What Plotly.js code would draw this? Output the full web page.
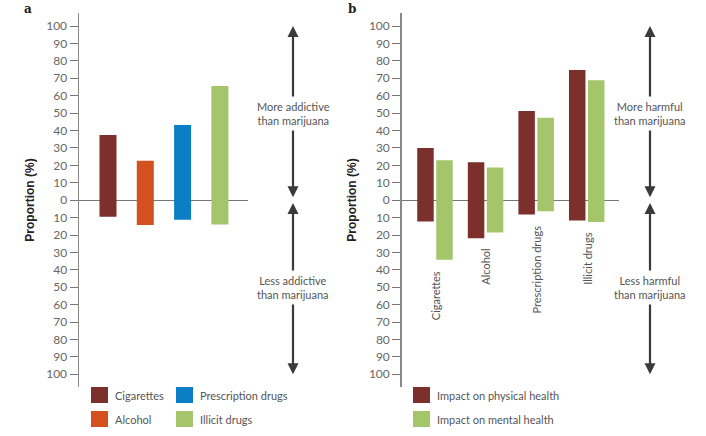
<!DOCTYPE html>
<html>
<head>
<meta charset="utf-8">
<script src="https://cdn.plot.ly/plotly-3.0.1.min.js"></script>
<style>html,body{margin:0;padding:0;background:#fff;}#chart{width:706px;height:436px;}</style>
</head>
<body>
<div id="chart"></div>
<script>
// ---- Data ----
const drugs = ["Cigarettes", "Alcohol", "Prescription drugs", "Illicit drugs"];
const drugColors = ["#7b302c", "#d4511f", "#0b7ec5", "#a5c56a"];
// Panel a: addictiveness
const moreAddictive = [37.4, 22.6, 43.2, 65.6];
const lessAddictive = [9.5, 14.3, 11.3, 14.0];
// Panel b: harm
const physMore = [29.9, 21.8, 51.2, 74.8];
const physLess = [12.3, 21.8, 8.2, 11.7];
const mentalMore = [22.9, 18.7, 47.4, 68.9];
const mentalLess = [34.2, 18.6, 6.3, 12.6];
const harmSeries = ["Impact on physical health", "Impact on mental health"];
const harmColors = ["#7b302c", "#a5c56a"];
const tickVals = [-100,-90,-80,-70,-60,-50,-40,-30,-20,-10,0,10,20,30,40,50,60,70,80,90,100];
const tickText = tickVals.map(v => String(Math.abs(v)));

// ---- helpers ----
const W = 706, H = 436;
const px = x => x / W;
const py = y => 1 - y / H;
const FONT = "Lato, 'Open Sans', sans-serif";
const GREY = "#555";

const traces = [
  {type:"bar", x:drugs, y:moreAddictive.map((v,i)=>v+lessAddictive[i]), base:lessAddictive.map(v=>-v),
   marker:{color:drugColors}, width:0.456, xaxis:"x", yaxis:"y", showlegend:false, hoverinfo:"skip"},
  {type:"bar", x:drugs, y:physMore.map((v,i)=>v+physLess[i]), base:physLess.map(v=>-v), name:harmSeries[0],
   marker:{color:harmColors[0]}, width:0.326, offset:-0.351, xaxis:"x2", yaxis:"y2", showlegend:false, hoverinfo:"skip"},
  {type:"bar", x:drugs, y:mentalMore.map((v,i)=>v+mentalLess[i]), base:mentalLess.map(v=>-v), name:harmSeries[1],
   marker:{color:harmColors[1]}, width:0.326, offset:0.025, xaxis:"x2", yaxis:"y2", showlegend:false, hoverinfo:"skip"}
];

function yax(){
  return {
    domain:[py(387), py(13)], range:[-107.3, 107.5], tickmode:"array", tickvals:tickVals, ticktext:tickText,
    ticks:"outside", ticklen:8, tickwidth:1, tickcolor:"#777", showline:true, linecolor:"#888", linewidth:1.5,
    showgrid:false, zeroline:true, zerolinecolor:"#777", zerolinewidth:1,
    tickfont:{family:FONT, size:12, color:"#666"},
    title:{text:"Proportion (%)", font:{family:"'Liberation Sans', Arial, sans-serif", size:12, color:"#222", weight:"bold"}, standoff:9},
    fixedrange:true
  };
}
function xax(d, r){
  return {domain:d, range:r, type:"category", showline:false, showticklabels:false, ticks:"", showgrid:false, zeroline:false, fixedrange:true};
}

const annotations = [];
const shapes = [];

// Panel labels
annotations.push({xref:"paper", yref:"paper", x:px(28), y:py(9), xanchor:"center", yanchor:"middle", text:"<b>a</b>", showarrow:false, font:{family:"'DejaVu Serif', serif", size:12, color:"#222"}});
annotations.push({xref:"paper", yref:"paper", x:px(352), y:py(9), xanchor:"center", yanchor:"middle", text:"<b>b</b>", showarrow:false, font:{family:"'DejaVu Serif', serif", size:12, color:"#222"}});

// Arrows
function arrow(xp, yref, y0, y1){
  annotations.push({xref:"paper", yref:yref, x:xp, y:y1, ax:0, axref:"pixel", ay:y0, ayref:yref, text:"",
    showarrow:true, arrowhead:2, startarrowhead:2, arrowside:"end+start", arrowsize:1, arrowwidth:2.2, arrowcolor:"#3a3a3a",
    standoff:0, startstandoff:0});
}
function arrowText(xp, ypix, txt){
  annotations.push({xref:"paper", yref:"paper", x:xp, y:py(ypix), xanchor:"center", yanchor:"middle", text:txt, showarrow:false, bgcolor:"#fff", borderpad:3,
    font:{family:FONT, size:11, color:GREY}, align:"center"});
}
arrow(px(293), "y", 0.8, 100);
arrow(px(293), "y", -0.8, -100);
arrowText(px(293), 113.5, "More addictive<br>than marijuana");
arrowText(px(293), 287.5, "Less addictive<br>than marijuana");
arrow(px(650), "y2", 0.8, 100);
arrow(px(650), "y2", -0.8, -100);
arrowText(px(650), 113.5, "More harmful<br>than marijuana");
arrowText(px(650), 287.5, "Less harmful<br>than marijuana");

// Vertical category labels (panel b)
drugs.forEach((d,i)=>{
  const low = Math.max(physLess[i], mentalLess[i]);
  annotations.push({xref:"x2", yref:"y2", x:d, y:-low, yshift:-9, xanchor:"center", yanchor:"top", textangle:-90, text:d, showarrow:false,
    font:{family:FONT, size:11, color:GREY}});
});

// Legends (custom swatches)
function legendItem(x0, y0, color, label){
  shapes.push({type:"rect", xref:"paper", yref:"paper", x0:px(x0), x1:px(x0+17), y0:py(y0+16), y1:py(y0), fillcolor:color, line:{width:0}});
  annotations.push({xref:"paper", yref:"paper", x:px(x0+22), y:py(y0+8), xanchor:"left", yanchor:"middle", text:label, showarrow:false,
    font:{family:FONT, size:11, color:GREY}});
}
legendItem(91, 387, drugColors[0], drugs[0]);
legendItem(91, 411, drugColors[1], drugs[1]);
legendItem(176, 387, drugColors[2], drugs[2]);
legendItem(176, 411, drugColors[3], drugs[3]);
legendItem(413, 387, harmColors[0], harmSeries[0]);
legendItem(413, 411, harmColors[1], harmSeries[1]);

const layout = {
  width:W, height:H, margin:{l:0, r:0, t:0, b:0}, paper_bgcolor:"#fff", plot_bgcolor:"rgba(0,0,0,0)",
  barmode:"overlay", showlegend:false,
  xaxis: xax([px(79), px(248)], [-0.777, 3.753]),
  yaxis: Object.assign(yax(), {anchor:"x"}),
  xaxis2: Object.assign(xax([px(401.7), px(619)], [-0.658, 3.638]), {anchor:"y2"}),
  yaxis2: Object.assign(yax(), {anchor:"x2"}),
  annotations: annotations, shapes: shapes
};
layout.xaxis.anchor = "y";

Plotly.newPlot("chart", traces, layout, {displayModeBar:false, staticPlot:true});
</script>
</body>
</html>
